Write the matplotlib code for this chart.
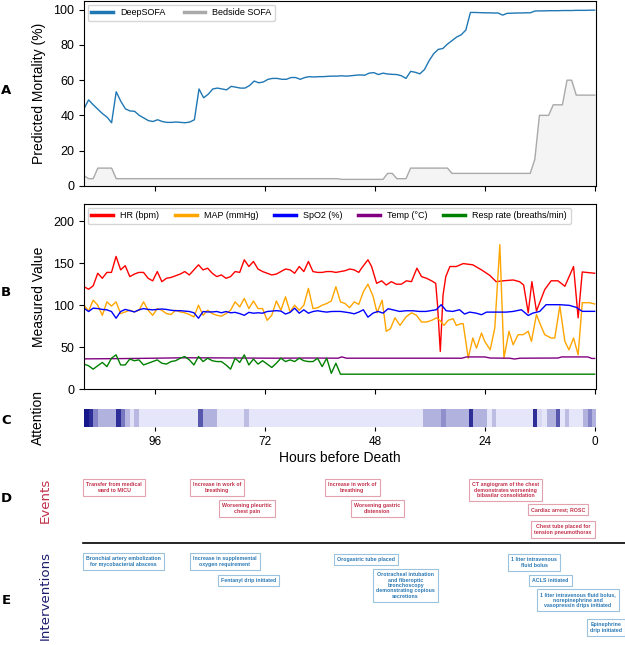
import matplotlib.pyplot as plt
import numpy as np
from matplotlib.colors import LinearSegmentedColormap
from matplotlib.lines import Line2D

plt.rcParams['font.family'] = ['Liberation Sans', 'DejaVu Sans']

# hourly grid (hours before death)
hours = np.linspace(111.5, 0, 112)

deep_sofa = [43.7, 48.8, 46, 43.5, 41, 39, 35.8, 53.4, 48, 43.7,
             42.5, 42.3, 40, 38.5, 37, 36.5, 37.5, 36.5, 36, 36,
             36.2, 36, 35.8, 36.2, 37.5, 55, 50, 52, 55, 55.5,
             55, 54.5, 56.5, 56, 55.5, 55.5, 57, 59.5, 58.5, 59,
             60.5, 61, 61, 60.5, 60.5, 61.5, 61.5, 60.5, 61.5, 62,
             61.8, 62, 62, 62.2, 62.3, 62.3, 62.5, 62.3, 62.5, 62.8,
             63, 62.8, 64, 64.3, 63.2, 64, 63.5, 63.3, 63.2, 62.5,
             61, 65, 64.5, 63.6, 66, 71, 75, 77.5, 78, 80.5,
             82.5, 84.5, 85.8, 88.5, 98.5, 98.5, 98.4, 98.3, 98.3, 98.2,
             98.2, 97, 98, 98.1, 98.2, 98.2, 98.3, 98.3, 99.3, 99.4,
             99.4, 99.5, 99.5, 99.5, 99.6, 99.6, 99.6, 99.7, 99.7, 99.7,
             99.8, 99.8]

bedside_sofa = [5.7, 4, 4, 10, 10, 10, 10, 4, 4, 4,
                4, 4, 4, 4, 4, 4, 4, 4, 4, 4,
                4, 4, 4, 4, 4, 4, 4, 4, 4, 4,
                4, 4, 4, 4, 4, 4, 4, 4, 4, 4,
                4, 4, 4, 4, 4, 4, 4, 4, 4, 4,
                4, 4, 4, 4, 4, 4, 3.6, 3.6, 3.6, 3.6,
                3.6, 3.6, 3.6, 3.6, 3.6, 3.6, 7, 7, 4, 4,
                4, 10, 10, 10, 10, 10, 10, 10, 10, 10,
                7, 7, 7, 7, 7, 7, 7, 7, 7, 7,
                7, 7, 7, 7, 7, 7, 7, 7, 15, 40,
                40, 40, 46, 46, 46, 60, 60, 51.5, 51.5, 51.5,
                51.5, 51.5]

# vitals: hourly until ~52 h, then irregular samples
vital_hours = np.arange(111.5, 51, -1.0)

hr_early = [122, 119, 123, 138, 132, 139, 139, 158, 142, 147,
            134, 137, 139, 139, 132, 129, 140, 128, 132, 133,
            135, 137, 140, 136, 142, 148, 142, 144, 138, 134,
            136, 132, 134, 140, 139, 154, 146, 152, 143, 140,
            138, 136, 137, 140, 143, 142, 138, 146, 140, 152,
            140, 139, 139, 140, 140, 139, 140, 141, 143, 142,
            139]
hr_late_hours = [50.9, 49.5, 48.7, 47.6, 46.5, 45.5, 44.4, 43.3, 42.2, 41.1,
                 40.0, 38.8, 37.8, 36.7, 35.6, 34.7, 34.3, 33.7, 33.1, 32.5,
                 31.6, 30.2, 28.7, 26.6, 24.7, 22.9, 21.5, 20.0, 17.8, 16.4,
                 15.5, 14.5, 13.7, 12.7, 10.9, 9.5, 8.0, 6.5, 4.6, 3.6,
                 2.7, 0.0]
hr_late = [144, 154, 146, 126, 129, 124, 128, 125, 125, 129,
           128, 144, 134, 132, 129, 126, 100, 45, 112, 134,
           146, 146, 149.5, 148, 142, 135.5, 128, 129, 130, 128,
           124, 91, 128, 93, 118.5, 129, 129, 122.5, 146, 85,
           139.5, 138]

map_early = [100, 93, 106, 100, 88, 104, 99, 104, 90, 92,
             94, 92, 94, 104, 94, 88, 96, 94, 90, 89,
             94, 92, 91, 89, 86, 100, 88, 94, 90, 88,
             87, 90, 94, 104, 98, 108, 96, 105, 96, 96,
             82, 88, 105, 94, 110, 92, 100, 94, 100, 120,
             96, 97, 100, 102, 105, 122, 104, 102, 97, 104,
             101]
map_late_hours = [50.5, 49.5, 48.4, 47.5, 46.4, 45.5, 44.6, 43.6, 42.5, 41.2,
                  40.0, 38.9, 37.8, 36.7, 35.6, 34.5, 33.8, 32.9, 32.0, 30.9,
                  30.2, 29.2, 28.7, 27.6, 26.6, 25.8, 24.7, 24.0, 22.8, 21.8,
                  20.7, 19.8, 18.7, 17.8, 16.7, 15.6, 14.5, 13.8, 12.7, 12.0,
                  10.9, 9.5, 8.7, 7.6, 6.5, 5.6, 4.6, 3.6, 2.7, 1.1,
                  0.0]
map_late = [116, 125, 111, 91, 106, 69, 72, 85, 76, 86,
            91, 88, 80, 80, 82, 85, 82, 76, 82, 84,
            76, 78, 78, 37, 61, 49, 67, 57, 47, 73,
            172, 37, 69, 53, 65, 65, 69, 57, 89, 79,
            65, 61, 61, 99, 57, 47, 61, 41, 103, 103,
            101.5]

spo2_early = [96.5, 92.5, 96.5, 96, 95, 94.5, 92.5, 84.5, 92.5, 95,
              93.5, 92, 94.5, 96, 95, 94.5, 95, 95.5, 95, 94,
              93.5, 93.5, 93, 92.5, 91, 84.5, 92.5, 92, 92, 92.5,
              91, 92.5, 91, 91.5, 90, 88, 91.5, 90.5, 91, 90.5,
              92.5, 93, 93.5, 93, 89.5, 91.5, 96.5, 90.5, 94.5, 90.5,
              92.5, 93.4, 92.5, 91.8, 92.5, 92.6, 92.6, 91.8, 91, 89.8,
              91.8]
spo2_late_hours = [50.5, 49.5, 48.4, 47.3, 46.2, 45.1, 44.1, 42.6, 41.2, 39.7,
                   38.3, 36.8, 34.6, 33.5, 32.4, 31.0, 29.5, 28.4, 27.3, 25.9,
                   24.7, 23.6, 21.5, 19.3, 17.8, 16.0, 14.5, 13.5, 12.0, 10.6,
                   7.6, 5.5, 4.0, 2.7, 0.0]
spo2_late = [94.6, 85.8, 90.6, 92.6, 90.6, 95.8, 94.6, 92.6, 93.4, 93.4,
             92.6, 92.6, 94.6, 100.6, 93.4, 92.6, 94.6, 89.5, 91.8, 90.6,
             88.7, 91.8, 91.8, 91.8, 92.6, 94.6, 87.8, 90.6, 92.6, 100.6,
             100.6, 99.8, 97.4, 92.7, 92.7]

temp_hours = [111.5, 104, 96, 90, 80, 70, 62, 56, 55.2, 54.2,
              46, 29, 28, 24, 22.8, 18.5, 17.5, 16.3, 8, 7.2,
              1.5, 0.6, 0]
temp = [36.2, 36.5, 37.0, 37.5, 37.3, 37.0, 37.2, 37.0, 38.6, 37.0,
        37.0, 37.0, 38.5, 38.5, 37.2, 37.0, 36.0, 37.0, 37.2, 38.5,
        38.5, 36.7, 36.7]

resp_early = [30, 28, 24, 28, 32, 27, 37, 41, 29, 29,
              36, 34, 35, 29, 31, 33, 35, 31, 30, 33,
              34, 37, 39, 35, 29, 39, 33, 37, 34, 33,
              33, 29, 24, 37, 32, 41, 29, 36, 30, 34,
              30, 26, 31, 37, 33, 35, 33, 37, 34, 33,
              33, 37, 27, 37, 19, 31]
resp_late_hours = [55.5, 0.0]
resp_late = [18, 18]

# attention weight per hour
attention = [0.9, 0.8, 0.42, 0.23, 0.23, 0.23, 0.23, 0.8, 0.48, 0.2,
             0.02, 0.2, 0, 0, 0, 0, 0, 0, 0, 0,
             0, 0, 0, 0, 0, 0.62, 0.23, 0.23, 0.23, 0,
             0, 0, 0, 0, 0, 0.18, 0, 0, 0, 0,
             0, 0, 0, 0, 0, 0, 0, 0, 0, 0,
             0, 0, 0, 0, 0, 0, 0, 0, 0, 0,
             0, 0, 0, 0, 0, 0, 0, 0, 0, 0,
             0, 0, 0, 0, 0.23, 0.23, 0.23, 0.23, 0.38, 0.23,
             0.23, 0.23, 0.23, 0.23, 0.8, 0.23, 0.23, 0.23, 0, 0.18,
             0, 0, 0, 0, 0, 0, 0, 0, 0.8, 0.06,
             0, 0.23, 0.23, 0.62, 0, 0.18, 0, 0, 0, 0.23,
             0.42, 0.23]

event_labels = ['Transfer from medical\nward to MICU',
                'Increase in work of\nbreathing',
                'Worsening pleuritic\nchest pain',
                'Increase in work of\nbreathing',
                'Worsening gastric\ndistension',
                'CT angiogram of the chest\ndemonstrates worsening\nbibasilar consolidation',
                'Cardiac arrest; ROSC',
                'Chest tube placed for\ntension pneumothorax']
event_hours = [111.7, 88.4, 82.0, 58.9, 53.2, 27.5, 14.6, 13.9]

intervention_labels = ['Bronchial artery embolization\nfor mycobacterial abscess',
                       'Increase in supplemental\noxygen requirement',
                       'Fentanyl drip initiated',
                       'Orogastric tube placed',
                       'Orotracheal intubation\nand fiberoptic\nbronchoscopy\ndemonstrating copious\nsecretions',
                       '1 liter intravenous\nfluid bolus',
                       'ACLS initiated',
                       '1 liter intravenous fluid bolus,\nnorepinephrine and\nvasopressin drips initiated',
                       'Epinephrine\ndrip initiated']
intervention_hours = [111.7, 88.4, 82.3, 56.9, 48.4, 18.9, 14.3, 12.6, 1.7]

# layout: box tops in pixels from the top of the figure
event_tops = [479, 479, 500, 479, 500, 479, 504, 521]
intervention_tops = [553, 553, 575, 554, 569, 554, 575, 589, 619]

W, H = 625, 645
fig = plt.figure(figsize=(W / 100, H / 100), dpi=100)
xt = [96, 72, 48, 24, 0]
xlim = (111.5, -0.3)

# A
axA = fig.add_axes([84 / W, 0.7121, 512 / W, 0.2863])
axA.fill_between(hours, bedside_sofa, color='#f4f4f4')
axA.plot(hours, deep_sofa, color='#1f77b4', lw=1, label='DeepSOFA')
axA.plot(hours, bedside_sofa, color='#aaaaaa', lw=1, label='Bedside SOFA')
axA.set_xlim(xlim)
axA.set_ylim(0, 105)
axA.set_xticks(xt)
axA.set_yticks([0, 20, 40, 60, 80, 100])
axA.tick_params(labelbottom=False, labelsize=9)
axA.set_ylabel('Predicted Mortality (%)', fontsize=10)
axA.yaxis.set_label_coords(-0.074, 0.5)
leg = axA.legend(loc='upper left', ncol=2, fontsize=6.5, handlelength=2.4,
                 borderaxespad=0.4)
for ln in leg.get_lines():
    ln.set_linewidth(2.5)

# B
axB = fig.add_axes([84 / W, 0.3964, 512 / W, 0.2869])
axB.plot(np.concatenate([vital_hours, hr_late_hours]), hr_early + hr_late,
         color='red', lw=1, label='HR (bpm)')
axB.plot(np.concatenate([vital_hours, map_late_hours]), map_early + map_late,
         color='orange', lw=1, label='MAP (mmHg)')
axB.plot(np.concatenate([vital_hours, spo2_late_hours]), spo2_early + spo2_late,
         color='blue', lw=1, label='SpO2 (%)')
axB.plot(temp_hours, temp, color='purple', lw=1, label='Temp (°C)')
axB.plot(np.concatenate([vital_hours[:len(resp_early)], resp_late_hours]),
         resp_early + resp_late, color='green', lw=1,
         label='Resp rate (breaths/min)')
axB.set_xlim(xlim)
axB.set_ylim(0, 220)
axB.set_xticks(xt)
axB.set_yticks([0, 50, 100, 150, 200])
axB.tick_params(labelbottom=False, labelsize=9)
axB.set_ylabel('Measured Value', fontsize=10)
axB.yaxis.set_label_coords(-0.074, 0.5)
leg = axB.legend(loc='upper left', ncol=5, fontsize=6.5, handlelength=2.4,
                 borderaxespad=0.4, columnspacing=1.75)
for ln in leg.get_lines():
    ln.set_linewidth(2.5)

# C
axC = fig.add_axes([84 / W, 0.338, 512 / W, 0.0284])
cmap = LinearSegmentedColormap.from_list('att', ['#e6e6fa', '#000080'])
edges = np.linspace(111.5, -0.5, len(attention) + 1)
axC.pcolormesh(edges, [0, 1], [attention], cmap=cmap, vmin=0, vmax=1)
axC.set_xlim(xlim)
axC.set_ylim(0, 1)
axC.set_xticks(xt)
axC.set_yticks([])
for s in axC.spines.values():
    s.set_visible(False)
axC.tick_params(labelsize=8.5, length=3)
axC.set_xlabel('Hours before Death', fontsize=10, labelpad=2)
axC.set_ylabel('Attention', fontsize=10)
axC.yaxis.set_label_coords(-0.076, 0.5)

# D / E boxes
fs = 3.8
pad = 0.6
for lab, h, top in zip(event_labels, event_hours, event_tops):
    axC.annotate(lab, xy=(h, 1 - top / H), xycoords=('data', 'figure fraction'),
                 xytext=(fs * pad, -fs * pad), textcoords='offset points',
                 ha='left', va='top', ma='center', fontsize=fs, fontweight='bold',
                 color='#c3304b', linespacing=1.1, annotation_clip=False,
                 bbox=dict(boxstyle='square,pad=%.2f' % pad, fc='white',
                           ec='#e3a3ae', lw=0.8))
for lab, h, top in zip(intervention_labels, intervention_hours, intervention_tops):
    axC.annotate(lab, xy=(h, 1 - top / H), xycoords=('data', 'figure fraction'),
                 xytext=(fs * pad, -fs * pad), textcoords='offset points',
                 ha='left', va='top', ma='center', fontsize=fs, fontweight='bold',
                 color='#2a78b4', linespacing=1.1, annotation_clip=False,
                 bbox=dict(boxstyle='square,pad=%.2f' % pad, fc='white',
                           ec='#9ac3df', lw=0.8))

fig.add_artist(Line2D([83 / W, 1], [1 - 543 / H, 1 - 543 / H], color='black', lw=1.2))

fig.text(45 / W, 1 - 500 / H, 'Events', rotation=90, color='#c0304a',
         fontsize=9.6, family='DejaVu Sans', ha='center', va='center')
fig.text(45 / W, 1 - 596 / H, 'Interventions', rotation=90, color='#1c1c6e',
         fontsize=9.6, family='DejaVu Sans', ha='center', va='center')

for letter, y in zip('ABCDE', [90, 293, 420, 498, 600]):
    fig.text(6 / W, 1 - y / H, letter, fontsize=9.5, fontweight='bold',
             family='DejaVu Sans', ha='center', va='center')

fig.savefig('out.png', dpi=100)
